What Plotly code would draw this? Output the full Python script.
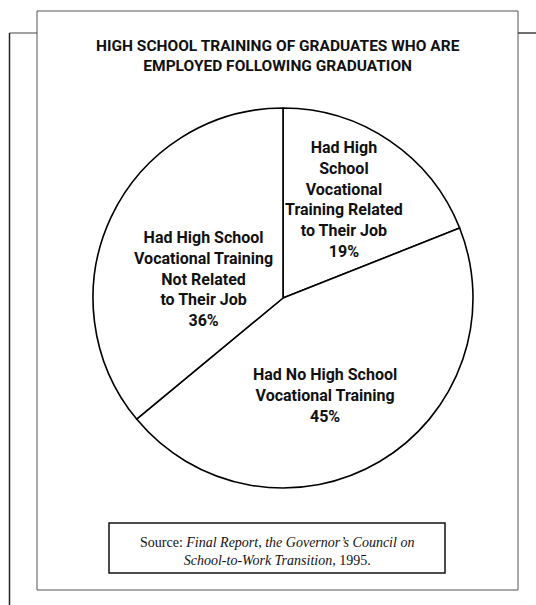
import plotly.graph_objects as go

# Share of employed graduates by type of high-school training (percent)
groups = [
    "Had High School Vocational Training Related to Their Job",
    "Had No High School Vocational Training",
    "Had High School Vocational Training Not Related to Their Job",
]
shares = [19, 45, 36]

# How each slice caption is broken into lines
caption_lines = [
    ["Had High", "School", "Vocational", "Training Related", "to Their Job"],
    ["Had No High School", "Vocational Training"],
    ["Had High School", "Vocational Training", "Not Related", "to Their Job"],
]

title_lines = [
    "HIGH SCHOOL TRAINING OF GRADUATES WHO ARE",
    "EMPLOYED FOLLOWING GRADUATION",
]
source_lines = [
    "Source: <i>Final Report</i>, <i>the Governor’s Council on</i>",
    "<i>School-to-Work Transition</i>, 1995.",
]

W, H = 536, 605


def px(x):
    return x / W


def py(y):
    return 1 - y / H


BOLD_NARROW = "Roboto, Liberation Sans, sans-serif"
SERIF = "Liberation Serif, serif"

# pie geometry in page pixels
cx, cy, r = 283, 298, 190

fig = go.Figure(
    go.Pie(
        labels=groups,
        values=shares,
        sort=False,
        direction="clockwise",
        rotation=0,
        textinfo="none",
        hoverinfo="label+percent",
        marker=dict(colors=["white"] * len(shares), line=dict(color="black", width=1.6)),
        domain=dict(x=[px(cx - r), px(cx + r)], y=[py(cy + r), py(cy - r)]),
        showlegend=False,
    )
)

# caption centres for each slice
caption_pos = [(344, 199), (325, 395), (203, 279)]
annotations = []
for lines, val, (ax, ay) in zip(caption_lines, shares, caption_pos):
    annotations.append(
        dict(
            x=px(ax), y=py(ay), xref="paper", yref="paper",
            text="<b>" + "<br>".join(lines + [f"{val}%"]) + "</b>",
            showarrow=False, xanchor="center", yanchor="middle", align="center",
            font=dict(family=BOLD_NARROW, size=16, color="#111"),
        )
    )

# chart heading
annotations.append(
    dict(
        x=px(278), y=py(56), xref="paper", yref="paper",
        text="<b>" + "<br>".join(title_lines) + "</b>",
        showarrow=False, xanchor="center", yanchor="middle", align="center",
        font=dict(family=BOLD_NARROW, size=15.5, color="#111"),
    )
)

# source note
annotations.append(
    dict(
        x=px(277), y=py(551), xref="paper", yref="paper",
        text="<br>".join(source_lines),
        showarrow=False, xanchor="center", yanchor="middle", align="center",
        font=dict(family=SERIF, size=14, color="#111"),
    )
)

# frame and boxes
shapes = [
    dict(type="rect", xref="paper", yref="paper",
         x0=px(37), x1=px(518), y0=py(590), y1=py(11),
         line=dict(color="#555", width=1)),
    dict(type="line", xref="paper", yref="paper",
         x0=px(9.5), x1=px(9.5), y0=py(33), y1=py(605),
         line=dict(color="#222", width=1.5)),
    dict(type="line", xref="paper", yref="paper",
         x0=px(9.5), x1=px(37), y0=py(33), y1=py(33),
         line=dict(color="#444", width=1)),
    dict(type="line", xref="paper", yref="paper",
         x0=px(518), x1=px(536), y0=py(33), y1=py(33),
         line=dict(color="#222", width=1.3)),
    dict(type="rect", xref="paper", yref="paper",
         x0=px(109), x1=px(445), y0=py(573), y1=py(523),
         line=dict(color="#111", width=1.5)),
]

fig.update_layout(
    width=W, height=H,
    margin=dict(l=0, r=0, t=0, b=0),
    paper_bgcolor="white", plot_bgcolor="white",
    annotations=annotations, shapes=shapes,
)

fig.write_html("out.html")
